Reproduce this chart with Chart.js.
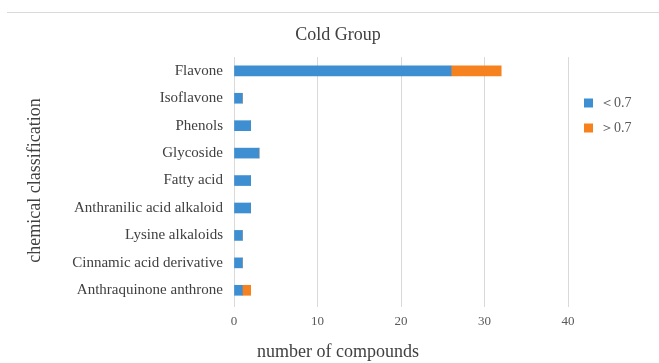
<!DOCTYPE html>
<html>
<head>
<meta charset="utf-8">
<script src="https://cdn.jsdelivr.net/npm/chart.js@4/dist/chart.umd.min.js"></script>
<style>
  html, body { margin: 0; padding: 0; background: #fff; }
  #wrap { width: 659px; height: 363px; position: relative; }
</style>
</head>
<body>
<div id="wrap"><canvas id="c" width="659" height="363"></canvas></div>
<script>
const categories = [
  'Flavone', 'Isoflavone', 'Phenols', 'Glycoside', 'Fatty acid',
  'Anthranilic acid alkaloid', 'Lysine alkaloids', 'Cinnamic acid derivative',
  'Anthraquinone anthrone'
];
const below07 = [26, 1, 2, 3, 2, 2, 1, 1, 1];
const above07 = [6, 0, 0, 0, 0, 0, 0, 0, 1];
const seriesNames = ['＜0.7', '＞0.7'];
const xTicks = [0, 10, 20, 30, 40];

const serif = '"Liberation Serif", "Times New Roman", serif';

// thin rule along the top of the chart frame
const topRule = {
  id: 'topRule',
  beforeDraw(chart) {
    const ctx = chart.ctx;
    ctx.save();
    ctx.strokeStyle = '#d9d9d9';
    ctx.lineWidth = 1;
    ctx.beginPath();
    ctx.moveTo(7, 12.5);
    ctx.lineTo(chart.width, 12.5);
    ctx.stroke();
    ctx.restore();
  }
};

// fixed legend column width, and placement of legend / title blocks
const placement = {
  id: 'placement',
  beforeLayout(chart) {
    const lg = chart.legend;
    if (lg && !lg._fixedFit) {
      const fit = lg.fit.bind(lg);
      lg.fit = function () { fit(); this.width = 91; };
      lg._fixedFit = true;
    }
  },
  afterLayout(chart) {
    const lg = chart.legend;
    if (lg) {
      lg.left += 5;
      lg.right += 5;
      lg.top = 85;
    }
    chart.boxes.forEach(b => {
      if (b.options && (b.options.text === 'Cold Group' || b.options.text === 'number of compounds')) {
        b.left += 8.5;
        b.right += 8.5;
      }
    });
  }
};

new Chart(document.getElementById('c'), {
  type: 'bar',
  data: {
    labels: categories,
    datasets: [
      { label: seriesNames[0], data: below07, backgroundColor: '#3d8fd2', borderWidth: 0, barThickness: 10 },
      { label: seriesNames[1], data: above07, backgroundColor: '#f5821f', borderWidth: 0, barThickness: 10 }
    ]
  },
  options: {
    indexAxis: 'y',
    responsive: false,
    animation: false,
    layout: { padding: 0 },
    plugins: {
      title: {
        display: true,
        text: 'Cold Group',
        color: '#404040',
        font: { family: serif, size: 18, weight: 'normal' },
        padding: { top: 24, bottom: 11.5 }
      },
      subtitle: {
        display: true,
        position: 'bottom',
        text: 'number of compounds',
        color: '#404040',
        font: { family: serif, size: 18, weight: 'normal' },
        padding: { top: 0, bottom: 0 }
      },
      legend: {
        position: 'right',
        align: 'start',
        labels: {
          boxWidth: 9,
          boxHeight: 9,
          color: '#595959',
          padding: 11,
          font: { family: serif, size: 14 }
        }
      },
      tooltip: { enabled: false }
    },
    scales: {
      x: {
        stacked: true,
        min: 0,
        max: 40,
        afterBuildTicks(scale) { scale.ticks = xTicks.map(v => ({ value: v })); },
        afterFit(scale) { scale.height = 37.4; },
        grid: { color: '#d9d9d9', drawTicks: true, tickLength: 3 },
        border: { display: false },
        ticks: { color: '#595959', font: { family: serif, size: 13 }, padding: 7 }
      },
      y: {
        stacked: true,
        afterFit(scale) { scale.width = 234; },
        grid: { display: false, drawTicks: false },
        border: { display: true, color: '#d9d9d9' },
        ticks: { color: '#404040', font: { family: serif, size: 15 }, padding: 11 },
        title: {
          display: true,
          text: 'chemical classification',
          color: '#404040',
          font: { family: serif, size: 18, weight: 'normal' },
          padding: { top: 24, bottom: 0 }
        }
      }
    }
  },
  plugins: [topRule, placement]
});
</script>
</body>
</html>
